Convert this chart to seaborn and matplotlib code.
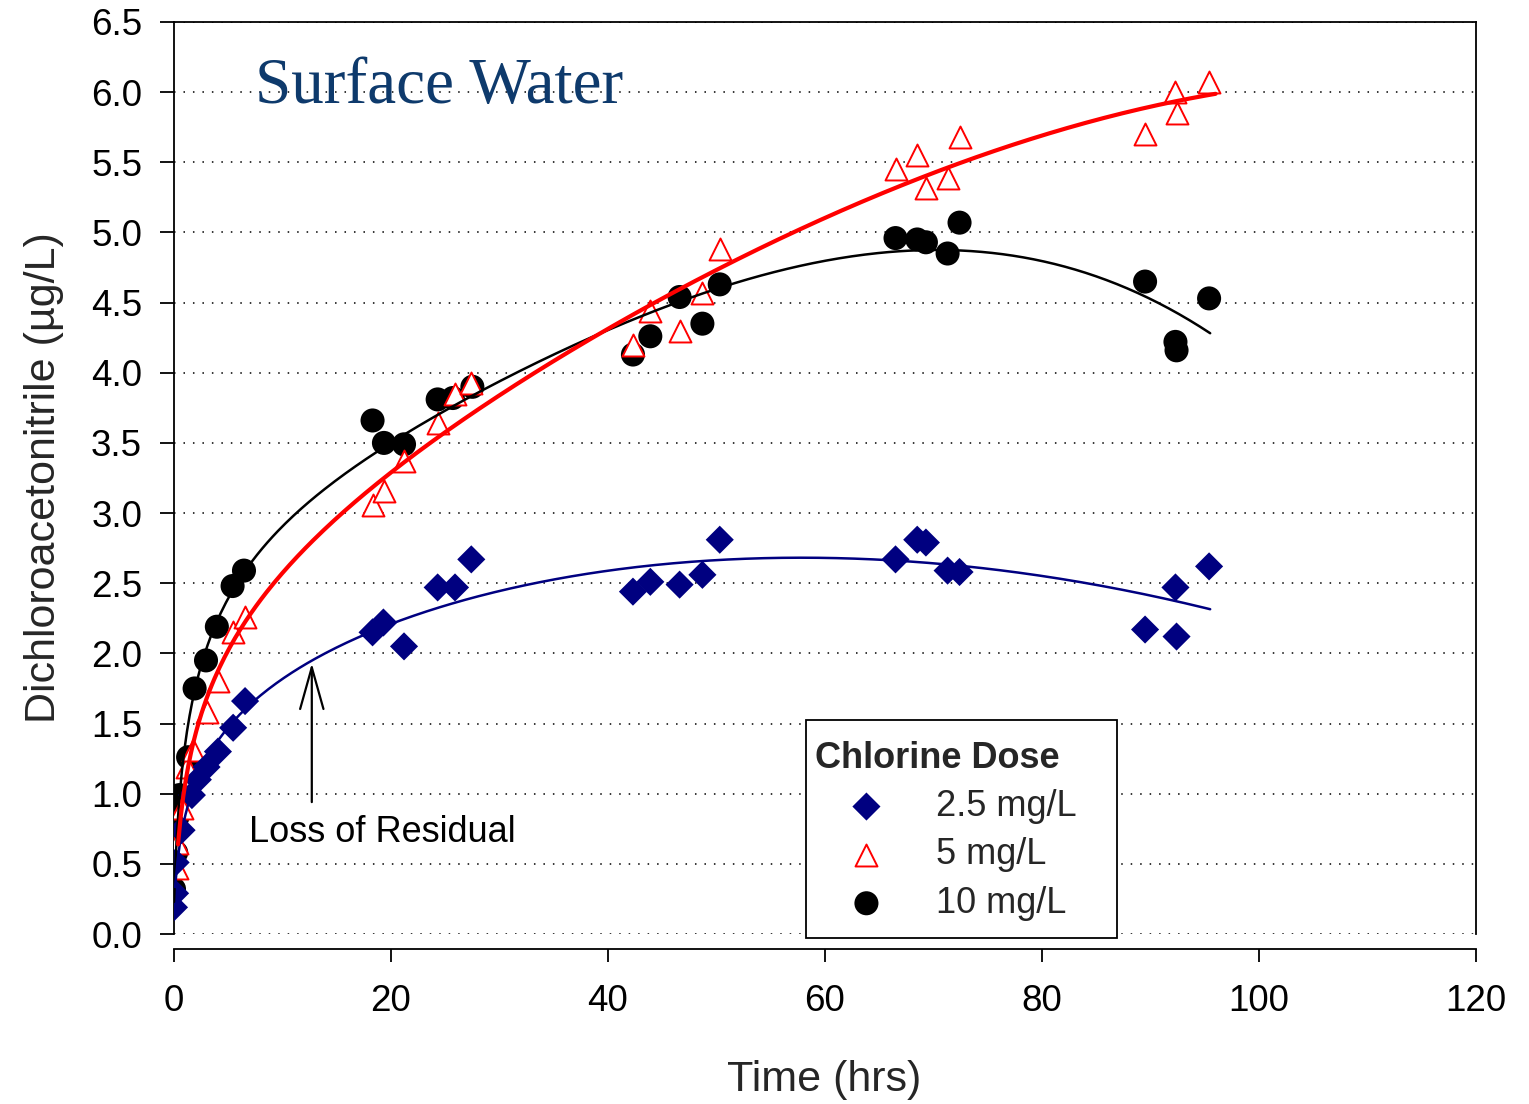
import numpy as np
import pandas as pd
import matplotlib
matplotlib.use("Agg")
import matplotlib.pyplot as plt
from matplotlib.patches import Rectangle
import seaborn as sns

# ---------------- data ----------------
t_25 = [0, 0.1, 0.15, 0.7, 1.65, 2.2, 3.0, 4.05, 5.45, 6.55,
        18.3, 19.3, 21.2, 24.3, 25.9, 27.4,
        42.3, 43.9, 46.6, 48.7, 50.3,
        66.5, 68.5, 69.3, 71.3, 72.4,
        89.5, 92.3, 92.4, 95.4]
y_25 = [0.19, 0.29, 0.51, 0.74, 0.99, 1.10, 1.19, 1.30, 1.47, 1.66,
        2.15, 2.22, 2.05, 2.47, 2.47, 2.67,
        2.44, 2.51, 2.49, 2.56, 2.81,
        2.67, 2.81, 2.79, 2.59, 2.58,
        2.17, 2.47, 2.12, 2.62]

t_5 = [0.25, 0.3, 0.7, 1.2, 1.75, 3.0, 4.1, 5.4, 6.5,
       18.3, 19.4, 21.2, 24.3, 25.9, 27.4,
       42.3, 43.9, 46.6, 48.7, 50.3,
       66.5, 68.5, 69.3, 71.3, 72.4,
       89.5, 92.3, 92.4, 95.4]
y_5 = [0.47, 0.65, 0.90, 1.19, 1.31, 1.58, 1.80, 2.15, 2.26,
       3.06, 3.16, 3.37, 3.64, 3.85, 3.93,
       4.20, 4.44, 4.30, 4.57, 4.88,
       5.45, 5.55, 5.32, 5.39, 5.68,
       5.70, 6.00, 5.85, 6.07]

t_10 = [0, 0.2, 0.3, 0.5, 1.3, 1.9, 2.95, 3.95, 5.4, 6.45,
        18.3, 19.35, 21.2, 24.3, 25.7, 27.5,
        42.3, 43.9, 46.6, 48.7, 50.3,
        66.5, 68.5, 69.3, 71.3, 72.4,
        89.5, 92.3, 92.4, 95.4]
y_10 = [0.32, 0.58, 0.83, 0.99, 1.26, 1.75, 1.95, 2.19, 2.48, 2.59,
        3.66, 3.50, 3.49, 3.81, 3.82, 3.90,
        4.13, 4.26, 4.54, 4.35, 4.63,
        4.96, 4.95, 4.93, 4.85, 5.07,
        4.65, 4.22, 4.16, 4.53]

dose_labels = ["2.5 mg/L", "5 mg/L", "10 mg/L"]
x_ticks = [0, 20, 40, 60, 80, 100, 120]
y_ticks = [0.0, 0.5, 1.0, 1.5, 2.0, 2.5, 3.0, 3.5, 4.0, 4.5, 5.0, 5.5, 6.0, 6.5]

NAVY = "#000080"
RED = "#FF0000"
BLACK = "#000000"


# ---------------- least-squares regression curves fitted to the data ----------------
def fit_curve(t, y, t0, t1, power=2, c=0.3):
    """y ~ a + b*ln(t+c) + polynomial(t)"""
    t = np.asarray(t, float)
    y = np.asarray(y, float)

    def basis(tt):
        cols = [np.ones_like(tt), np.log(tt + c)]
        for p in range(1, power + 1):
            cols.append((tt / 100.0) ** p)
        return np.column_stack(cols)

    coef, *_ = np.linalg.lstsq(basis(t), y, rcond=None)
    tg = np.linspace(t0, t1, 400)
    return pd.DataFrame({"t": tg, "y": basis(tg) @ coef})


fit_25 = fit_curve(t_25, y_25, 0.1, 95.5, power=2)
fit_5 = fit_curve(t_5, y_5, 0.37, 96.0, power=3)
fit_10 = fit_curve(t_10, y_10, 0.0, 95.5, power=3)

df25 = pd.DataFrame({"t": t_25, "y": y_25})
df5 = pd.DataFrame({"t": t_5, "y": y_5})
df10 = pd.DataFrame({"t": t_10, "y": y_10})

# ---------------- figure ----------------
sns.set_theme(style="ticks")
plt.rcParams["font.family"] = ["Liberation Sans", "DejaVu Sans"]

W, H = 1529, 1104
fig = plt.figure(figsize=(W / 100, H / 100), dpi=100)
ax = fig.add_axes([174 / W, 1 - 934 / H, (1476 - 174) / W, (934 - 22) / H])

# dotted horizontal grid
for yv in y_ticks:
    ax.axhline(yv, color="black", lw=1.1, ls=(0, (1, 5.2)), zorder=0.5)

sns.scatterplot(data=df10, x="t", y="y", ax=ax, marker="o", s=300,
                color=BLACK, edgecolor="none", linewidth=0, zorder=2,
                label=dose_labels[2])
sns.scatterplot(data=df5, x="t", y="y", ax=ax, marker="^", s=250,
                facecolor="white", edgecolor=RED, linewidth=1.4, zorder=3,
                label=dose_labels[1])
sns.scatterplot(data=df25, x="t", y="y", ax=ax, marker="D", s=205,
                color=NAVY, edgecolor="none", linewidth=0, zorder=4,
                label=dose_labels[0])

sns.lineplot(data=fit_10, x="t", y="y", ax=ax, color=BLACK, lw=1.8, zorder=5,
             legend=False)
sns.lineplot(data=fit_25, x="t", y="y", ax=ax, color=NAVY, lw=1.8, zorder=5,
             legend=False)
sns.lineplot(data=fit_5, x="t", y="y", ax=ax, color=RED, lw=3.0, zorder=6,
             legend=False)

ax.set_xlim(0, 120)
ax.set_ylim(0, 6.5)
ax.set_xticks(x_ticks)
ax.set_yticks(y_ticks)
ax.set_yticklabels([f"{v:.1f}" for v in y_ticks])
ax.tick_params(axis="both", direction="out", labelsize=26.5, width=1.3,
               color="black", labelcolor="black")
ax.tick_params(axis="y", length=10, pad=13)
ax.tick_params(axis="x", length=9.5, pad=16)
for sp in ax.spines.values():
    sp.set_color("black")
    sp.set_linewidth(1.3)
ax.spines["bottom"].set_position(("outward", 15 * 72 / 100))

ax.set_xlabel("Time (hrs)", fontsize=31)
ax.set_ylabel("Dichloroacetonitrile (\u00b5g/L)", fontsize=31)
ax.xaxis.set_label_coords(0.4996, -0.160)
ax.xaxis.label.set_va("center")
ax.yaxis.set_label_coords(-0.100, 0.500)
ax.yaxis.label.set_va("center")

# title text inside plot
ax.text(0.0622, 0.911, "Surface Water", transform=ax.transAxes,
        fontsize=47, family=["Liberation Serif", "DejaVu Serif"],
        color="#0E3A6C", ha="left", va="baseline", zorder=7)

# annotation
ax.annotate("", xy=(12.7, 1.93), xytext=(12.7, 0.94),
            arrowprops=dict(arrowstyle="->,head_length=2.5,head_width=0.7",
                            color="black", lw=1.6, shrinkA=0, shrinkB=0),
            zorder=7)
ax.text(6.9, 0.655, "Loss of Residual", fontsize=26, ha="left",
        va="baseline", color="black", zorder=7)

# legend box (white frame) and legend contents
box = Rectangle((0.4854, -0.0044), 0.2389, 0.2390, transform=ax.transAxes,
                facecolor="white", edgecolor="black", lw=1.3, zorder=8,
                clip_on=False)
ax.add_patch(box)

handles, labels = ax.get_legend_handles_labels()
order = [labels.index(l) for l in dose_labels]
leg = ax.legend([handles[i] for i in order], [labels[i] for i in order],
                title="Chlorine Dose", loc="upper left",
                bbox_to_anchor=(0.4923, 0.212),
                borderaxespad=0, frameon=False,
                fontsize=26, title_fontproperties={"weight": "bold", "size": 26},
                handletextpad=0.5, labelspacing=0.37, borderpad=0,
                handlelength=2.85)
leg._legend_box.align = "left"
leg.set_zorder(10)

fig.savefig("out.png", dpi=100)
